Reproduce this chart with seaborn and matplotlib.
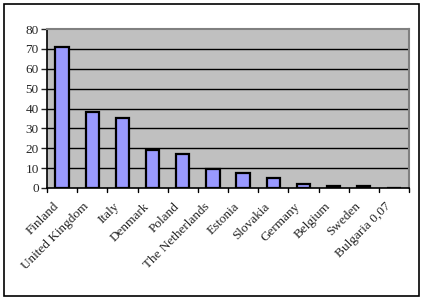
import matplotlib
matplotlib.use("Agg")
import matplotlib.pyplot as plt
import matplotlib.transforms as mtransforms
import seaborn as sns
import pandas as pd
import numpy as np
from matplotlib.patches import Rectangle

countries = ["Finland", "United Kingdom", "Italy", "Denmark", "Poland",
             "The Netherlands", "Estonia", "Slovakia", "Germany", "Belgium",
             "Sweden", "Bulgaria 0,07"]
values = [71, 38, 35, 19, 17, 9.5, 7.7, 5.2, 2.0, 0.8, 0.8, 0.07]
yticks = [0, 10, 20, 30, 40, 50, 60, 70, 80]

sns.set_style("white")
plt.rcParams['font.family'] = ['Liberation Serif', 'DejaVu Serif']

df = pd.DataFrame({"country": countries, "value": values})

fig = plt.figure(figsize=(4.26, 3.02), dpi=100)
ax = fig.add_axes([47/426, 1-188/302, (409-47)/426, (188-29)/302])
ax.set_facecolor("#C0C0C0")

sns.barplot(data=df, x="country", y="value", color="#9999FF", saturation=1,
            width=0.44, edgecolor="black", linewidth=1.6, ax=ax, zorder=3)

ax.set_ylim(0, 80)
ax.set_xlim(-0.5, len(countries) - 0.5)
ax.set_yticks(yticks)
ax.set_yticklabels([str(t) for t in yticks], fontsize=9.5)
for t in yticks[1:-1]:
    ax.axhline(t, color="black", linewidth=1.0, zorder=1)

ax.set_xticks(np.arange(len(countries)))
ax.set_xticklabels(countries, rotation=45, ha="right", va="center",
                   rotation_mode="anchor", fontsize=9.5)
ax.tick_params(axis="x", length=0, pad=12)
offset = mtransforms.ScaledTranslation(-5/100, 0, fig.dpi_scale_trans)
for lab in ax.get_xticklabels():
    lab.set_transform(lab.get_transform() + offset)
ax.tick_params(axis="y", length=4, width=1, direction="out", pad=2, left=True)
for b in np.arange(-0.5, len(countries), 1.0):
    ax.plot([b, b], [0, -2.2], color="black", linewidth=1, clip_on=False, zorder=5)

ax.set_xlabel("")
ax.set_ylabel("")
for s in ["left", "bottom"]:
    ax.spines[s].set_color("black")
    ax.spines[s].set_linewidth(1.2)
for s in ["top", "right"]:
    ax.spines[s].set_color("#808080")
    ax.spines[s].set_linewidth(1.5)

fig.patches.append(Rectangle((4/426, 1-296/302), (419-4)/426, (296-4)/302,
                             transform=fig.transFigure, fill=False,
                             edgecolor="black", linewidth=1.2))

fig.savefig("out.png", dpi=100)
